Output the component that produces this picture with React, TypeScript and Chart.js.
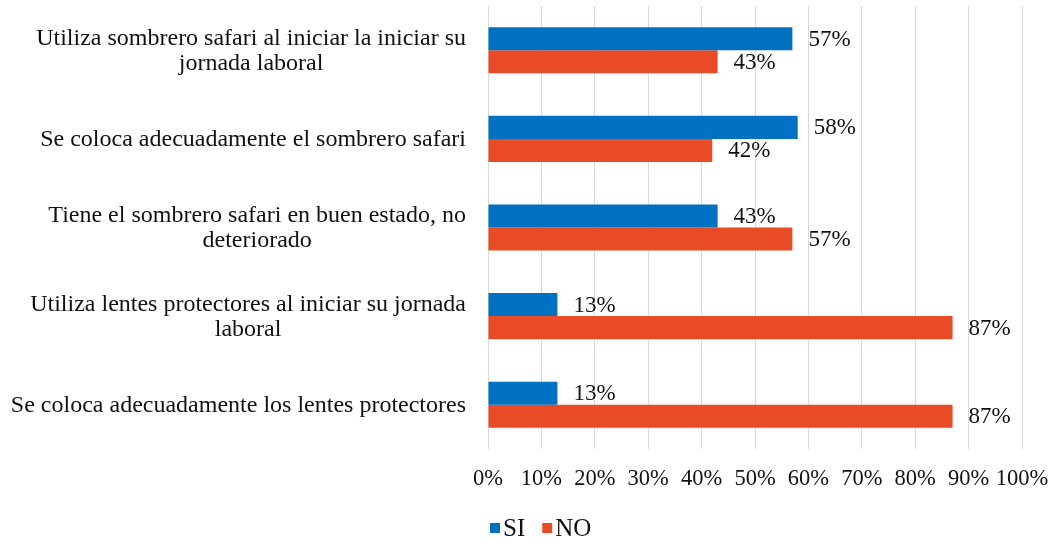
import React, { useEffect, useRef } from "react";
import { Chart, registerables } from "chart.js";

Chart.register(...registerables);

const categories: string[][] = [
  ["Utiliza sombrero safari al iniciar la iniciar su", "jornada laboral"],
  ["Se coloca adecuadamente el sombrero safari"],
  ["Tiene el sombrero safari en buen estado, no", "deteriorado"],
  ["Utiliza lentes protectores al iniciar su jornada", "laboral"],
  ["Se coloca adecuadamente los lentes protectores"],
];
const seriesNames = ["SI", "NO"];
const siValues = [57, 58, 43, 13, 13];
const noValues = [43, 42, 57, 87, 87];
const xTicks = [0, 10, 20, 30, 40, 50, 60, 70, 80, 90, 100];

const BLUE = "#0070C0";
const ORANGE = "#E84B26";
const FONT = "'Liberation Serif', 'Times New Roman', serif";
const TEXT = "#111111";

const overlayPlugin = {
  id: "overlay",
  afterDraw(chart: any) {
    const ctx = chart.ctx as CanvasRenderingContext2D;
    const yScale = chart.scales.y;
    const xScale = chart.scales.x;
    ctx.save();
    ctx.fillStyle = TEXT;
    ctx.textBaseline = "middle";

    // category labels: block right-aligned, lines centered within block
    ctx.font = `24px ${FONT}`;
    const rightEdge = 466;
    const lineH = 25;
    categories.forEach((lines, i) => {
      const cy = yScale.getPixelForValue(i);
      const w = Math.max(...lines.map((l) => ctx.measureText(l).width));
      ctx.textAlign = "center";
      lines.forEach((l, j) => {
        const y = cy + (j - (lines.length - 1) / 2) * lineH + 1;
        ctx.fillText(l, rightEdge - w / 2, y);
      });
    });

    // x tick labels
    ctx.font = `22.5px ${FONT}`;
    ctx.textAlign = "center";
    xTicks.forEach((v) => {
      ctx.fillText(`${v}%`, xScale.getPixelForValue(v), chart.chartArea.bottom + 30);
    });

    // data labels
    ctx.font = `23px ${FONT}`;
    ctx.textAlign = "left";
    chart.data.datasets.forEach((ds: any, di: number) => {
      const meta = chart.getDatasetMeta(di);
      meta.data.forEach((el: any, i: number) => {
        ctx.fillText(`${ds.data[i]}%`, el.x + 16, el.y + 1);
      });
    });

    // legend
    ctx.font = `25px ${FONT}`;
    const colors = [BLUE, ORANGE];
    let x = 490;
    const ly = 528;
    seriesNames.forEach((name, i) => {
      ctx.fillStyle = colors[i];
      ctx.fillRect(x, ly - 5, 10, 10);
      x += 13;
      ctx.fillStyle = TEXT;
      ctx.textAlign = "left";
      ctx.fillText(name, x, ly + 1);
      x += ctx.measureText(name).width + 17;
    });
    ctx.restore();
  },
};

export default function App() {
  const ref = useRef<HTMLCanvasElement | null>(null);
  useEffect(() => {
    if (!ref.current) return;
    const chart = new Chart(ref.current, {
      type: "bar",
      data: {
        labels: categories.map((c) => c.join(" ")),
        datasets: [
          {
            label: seriesNames[0],
            data: siValues,
            backgroundColor: BLUE,
            barPercentage: 1,
            categoryPercentage: 0.52,
          },
          {
            label: seriesNames[1],
            data: noValues,
            backgroundColor: ORANGE,
            barPercentage: 1,
            categoryPercentage: 0.52,
          },
        ],
      },
      options: {
        indexAxis: "y",
        responsive: false,
        animation: false,
        layout: { padding: { left: 488, right: 34, top: 6, bottom: 90 } },
        plugins: {
          legend: { display: false },
          tooltip: { enabled: false },
        },
        scales: {
          x: {
            min: 0,
            max: 100,
            afterBuildTicks: (axis: any) => {
              axis.ticks = xTicks.map((v) => ({ value: v }));
            },
            grid: { color: "#D9D9D9", lineWidth: 1, drawTicks: false },
            border: { display: false },
            ticks: { display: false },
          },
          y: {
            display: false,
            grid: { display: false },
          },
        },
      },
      plugins: [overlayPlugin],
    });
    return () => chart.destroy();
  }, []);
  return (
    <div style={{ position: "absolute", left: 0, top: 0, width: 1056, height: 539, background: "#fff" }}>
      <canvas ref={ref} width={1056} height={539} style={{ display: "block" }} />
    </div>
  );
}
